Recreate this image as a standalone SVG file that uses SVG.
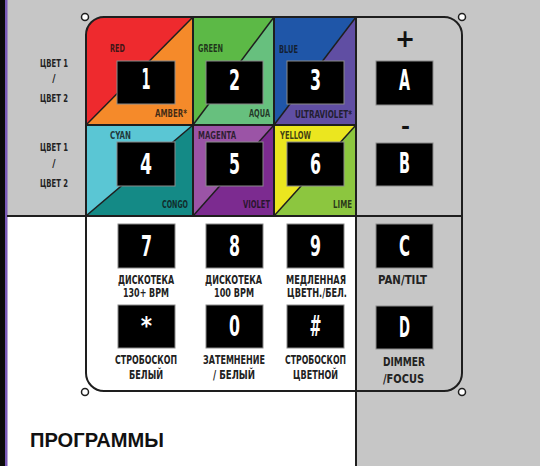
<svg xmlns="http://www.w3.org/2000/svg" width="540" height="466" viewBox="0 0 540 466">
<style>
.btn{fill:#000;stroke:#8a8a8a;stroke-width:1}
.key{font-family:"DejaVu Sans Condensed","DejaVu Sans",sans-serif;font-weight:bold;font-size:28px;fill:#fff;text-anchor:middle}
.sign{font-family:"DejaVu Sans","Liberation Sans",sans-serif;font-weight:bold;fill:#111;text-anchor:middle}
.cl{font-family:"DejaVu Sans Condensed","DejaVu Sans",sans-serif;font-weight:bold;font-size:10px;fill:#111;fill-opacity:0.8}
.lbl{font-family:"DejaVu Sans Condensed","DejaVu Sans",sans-serif;font-weight:bold;font-size:12px;fill:#222;text-anchor:middle}
.side{font-family:"DejaVu Sans Condensed","DejaVu Sans",sans-serif;font-weight:bold;font-size:10px;fill:#222;text-anchor:middle}
.ln{stroke:#1e1e1e;stroke-width:2;fill:none}
.dg{stroke:#1e1e1e;stroke-width:1.5}
.mark{fill:#fff;stroke:#1e1e1e;stroke-width:1.5}
</style>
<defs>
<clipPath id="box"><rect x="86" y="17" width="376" height="374" rx="18" ry="18"/></clipPath>
</defs>
<rect x="0" y="0" width="540" height="466" fill="#c6c6c6"/>
<rect x="7" y="216" width="349" height="250" fill="#fff"/>
<rect x="0" y="0" width="5" height="466" fill="#0b0b0b"/>
<rect x="5" y="0" width="2.5" height="466" fill="#7a5ab8"/>

<g id="cells" clip-path="url(#box)">
<polygon points="86,17 193,17 86,125" fill="#ee2a2e"/>
<polygon points="193,17 193,125 86,125" fill="#f58a2a"/>
<polygon points="193,17 274,17 193,125" fill="#5cb946"/>
<polygon points="274,17 274,125 193,125" fill="#67c07e"/>
<polygon points="274,17 356,17 274,125" fill="#1f56a8"/>
<polygon points="356,17 356,125 274,125" fill="#604ea3"/>
<polygon points="86,125 193,125 86,216" fill="#5ac6d4"/>
<polygon points="193,125 193,216 86,216" fill="#148a86"/>
<polygon points="193,125 274,125 193,216" fill="#9b54a6"/>
<polygon points="274,125 274,216 193,216" fill="#7c2b90"/>
<polygon points="274,125 356,125 274,216" fill="#ebe61f"/>
<polygon points="356,125 356,216 274,216" fill="#8cc63f"/>
<line class="dg" x1="86" y1="125" x2="193" y2="17"/>
<line class="dg" x1="193" y1="125" x2="274" y2="17"/>
<line class="dg" x1="274" y1="125" x2="356" y2="17"/>
<line class="dg" x1="86" y1="216" x2="193" y2="125"/>
<line class="dg" x1="193" y1="216" x2="274" y2="125"/>
<line class="dg" x1="274" y1="216" x2="356" y2="125"/>
</g>

<g id="connectors">
<line class="ln" x1="7" y1="216" x2="462" y2="216"/>
<line class="ln" x1="356" y1="17" x2="356" y2="466"/>
<line class="ln" x1="86" y1="125" x2="356" y2="125"/>
<line class="ln" x1="193" y1="17" x2="193" y2="216"/>
<line class="ln" x1="274" y1="17" x2="274" y2="216"/>
<rect class="ln" x="86" y="17" width="376" height="374" rx="18" ry="18"/>
<circle class="mark" cx="85" cy="17" r="3.5"/>
<circle class="mark" cx="462" cy="17" r="3.5"/>
<circle class="mark" cx="462" cy="392" r="3.5"/>
<circle class="mark" cx="85" cy="392" r="3.5"/>
</g>

<g id="side-labels">
<text class="side" x="54" y="67" textLength="28" lengthAdjust="spacingAndGlyphs">ЦВЕТ 1</text>
<text class="side" x="54" y="82">/</text>
<text class="side" x="54" y="102" textLength="28" lengthAdjust="spacingAndGlyphs">ЦВЕТ 2</text>
<text class="side" x="54" y="151" textLength="28" lengthAdjust="spacingAndGlyphs">ЦВЕТ 1</text>
<text class="side" x="54" y="167">/</text>
<text class="side" x="54" y="187" textLength="28" lengthAdjust="spacingAndGlyphs">ЦВЕТ 2</text>
</g>

<g id="key-1">
<text class="cl" x="110" y="52" textLength="15" lengthAdjust="spacingAndGlyphs">RED</text>
<text class="cl" x="155" y="117" textLength="32" lengthAdjust="spacingAndGlyphs">AMBER*</text>
<rect class="btn" x="117" y="61" width="58" height="43"/>
<text class="key" x="146" y="89" textLength="9" lengthAdjust="spacingAndGlyphs">1</text>
</g>
<g id="key-2">
<text class="cl" x="198" y="52" textLength="25" lengthAdjust="spacingAndGlyphs">GREEN</text>
<text class="cl" x="249" y="117" textLength="21" lengthAdjust="spacingAndGlyphs">AQUA</text>
<rect class="btn" x="206" y="61" width="57" height="43"/>
<text class="key" x="234.5" y="90" textLength="11" lengthAdjust="spacingAndGlyphs">2</text>
</g>
<g id="key-3">
<text class="cl" x="279" y="53" textLength="19" lengthAdjust="spacingAndGlyphs">BLUE</text>
<text class="cl" x="295" y="118" textLength="57" lengthAdjust="spacingAndGlyphs">ULTRAVIOLET*</text>
<rect class="btn" x="287" y="61" width="57" height="43"/>
<text class="key" x="315.5" y="90" textLength="11" lengthAdjust="spacingAndGlyphs">3</text>
</g>
<g id="key-A">
<text class="sign" x="405" y="47" font-size="24">+</text>
<rect class="btn" x="376" y="61" width="57" height="44"/>
<text class="key" x="404.5" y="90" textLength="11" lengthAdjust="spacingAndGlyphs">A</text>
</g>
<g id="key-4">
<text class="cl" x="110" y="139" textLength="21" lengthAdjust="spacingAndGlyphs">CYAN</text>
<text class="cl" x="162" y="208" textLength="26" lengthAdjust="spacingAndGlyphs">CONGO</text>
<rect class="btn" x="117" y="142" width="58" height="44"/>
<text class="key" x="146" y="174" textLength="12" lengthAdjust="spacingAndGlyphs">4</text>
</g>
<g id="key-5">
<text class="cl" x="198" y="139" textLength="38" lengthAdjust="spacingAndGlyphs">MAGENTA</text>
<text class="cl" x="243" y="208" textLength="27" lengthAdjust="spacingAndGlyphs">VIOLET</text>
<rect class="btn" x="206" y="142" width="57" height="44"/>
<text class="key" x="234.5" y="174" textLength="11" lengthAdjust="spacingAndGlyphs">5</text>
</g>
<g id="key-6">
<text class="cl" x="280" y="139" textLength="31" lengthAdjust="spacingAndGlyphs">YELLOW</text>
<text class="cl" x="333" y="208" textLength="19" lengthAdjust="spacingAndGlyphs">LIME</text>
<rect class="btn" x="287" y="142" width="57" height="44"/>
<text class="key" x="315.5" y="174" textLength="11" lengthAdjust="spacingAndGlyphs">6</text>
</g>
<g id="key-B">
<text class="sign" x="405.5" y="134" font-size="22" textLength="9" lengthAdjust="spacingAndGlyphs">-</text>
<rect class="btn" x="376" y="143" width="57" height="43"/>
<text class="key" x="404.5" y="173" textLength="11" lengthAdjust="spacingAndGlyphs">B</text>
</g>

<g id="key-7">
<rect class="btn" x="118" y="224" width="57" height="44"/>
<text class="key" x="146.5" y="256" textLength="11" lengthAdjust="spacingAndGlyphs">7</text>
<text class="lbl" x="146" y="284" textLength="56" lengthAdjust="spacingAndGlyphs">ДИСКОТЕКА</text>
<text class="lbl" x="146" y="296.5" textLength="46" lengthAdjust="spacingAndGlyphs">130+ BPM</text>
</g>
<g id="key-8">
<rect class="btn" x="206" y="224" width="57" height="44"/>
<text class="key" x="234.5" y="256" textLength="11" lengthAdjust="spacingAndGlyphs">8</text>
<text class="lbl" x="233.5" y="284" textLength="57" lengthAdjust="spacingAndGlyphs">ДИСКОТЕКА</text>
<text class="lbl" x="234" y="296.5" textLength="40" lengthAdjust="spacingAndGlyphs">100 BPM</text>
</g>
<g id="key-9">
<rect class="btn" x="287" y="224" width="57" height="44"/>
<text class="key" x="315.5" y="256" textLength="11" lengthAdjust="spacingAndGlyphs">9</text>
<text class="lbl" x="316" y="284" textLength="60" lengthAdjust="spacingAndGlyphs">МЕДЛЕННАЯ</text>
<text class="lbl" x="317" y="296.5" textLength="60" lengthAdjust="spacingAndGlyphs">ЦВЕТН./БЕЛ.</text>
</g>
<g id="key-C">
<rect class="btn" x="376" y="224" width="57" height="44"/>
<text class="key" x="404.5" y="256" textLength="11" lengthAdjust="spacingAndGlyphs">C</text>
<text class="lbl" x="402.5" y="284" textLength="49" lengthAdjust="spacingAndGlyphs">PAN/TILT</text>
</g>
<g id="key-star">
<rect class="btn" x="118" y="305" width="57" height="43"/>
<text class="key" x="146.5" y="334" style="font-size:24px">*</text>
<text class="lbl" x="146" y="364" textLength="62" lengthAdjust="spacingAndGlyphs">СТРОБОСКОП</text>
<text class="lbl" x="146" y="379" textLength="34" lengthAdjust="spacingAndGlyphs">БЕЛЫЙ</text>
</g>
<g id="key-0">
<rect class="btn" x="206" y="305" width="57" height="43"/>
<text class="key" x="234.5" y="336" textLength="11" lengthAdjust="spacingAndGlyphs">0</text>
<text class="lbl" x="234" y="364" textLength="62" lengthAdjust="spacingAndGlyphs">ЗАТЕМНЕНИЕ</text>
<text class="lbl" x="234" y="379" textLength="42" lengthAdjust="spacingAndGlyphs">/ БЕЛЫЙ</text>
</g>
<g id="key-hash">
<rect class="btn" x="287" y="305" width="57" height="43"/>
<text class="key" x="315.5" y="336" textLength="12" lengthAdjust="spacingAndGlyphs">#</text>
<text class="lbl" x="315.5" y="364" textLength="61" lengthAdjust="spacingAndGlyphs">СТРОБОСКОП</text>
<text class="lbl" x="315.5" y="379" textLength="45" lengthAdjust="spacingAndGlyphs">ЦВЕТНОЙ</text>
</g>
<g id="key-D">
<rect class="btn" x="376" y="306" width="57" height="43"/>
<text class="key" x="404.5" y="337" textLength="11" lengthAdjust="spacingAndGlyphs">D</text>
<text class="lbl" x="404" y="366" textLength="42" lengthAdjust="spacingAndGlyphs">DIMMER</text>
<text class="lbl" x="403.5" y="383" textLength="41" lengthAdjust="spacingAndGlyphs">/FOCUS</text>
</g>

<g id="title">
<text x="30" y="447" font-family="Liberation Sans, sans-serif" font-weight="bold" font-size="19.5" fill="#111" textLength="134" lengthAdjust="spacingAndGlyphs">ПРОГРАММЫ</text>
</g>
</svg>
